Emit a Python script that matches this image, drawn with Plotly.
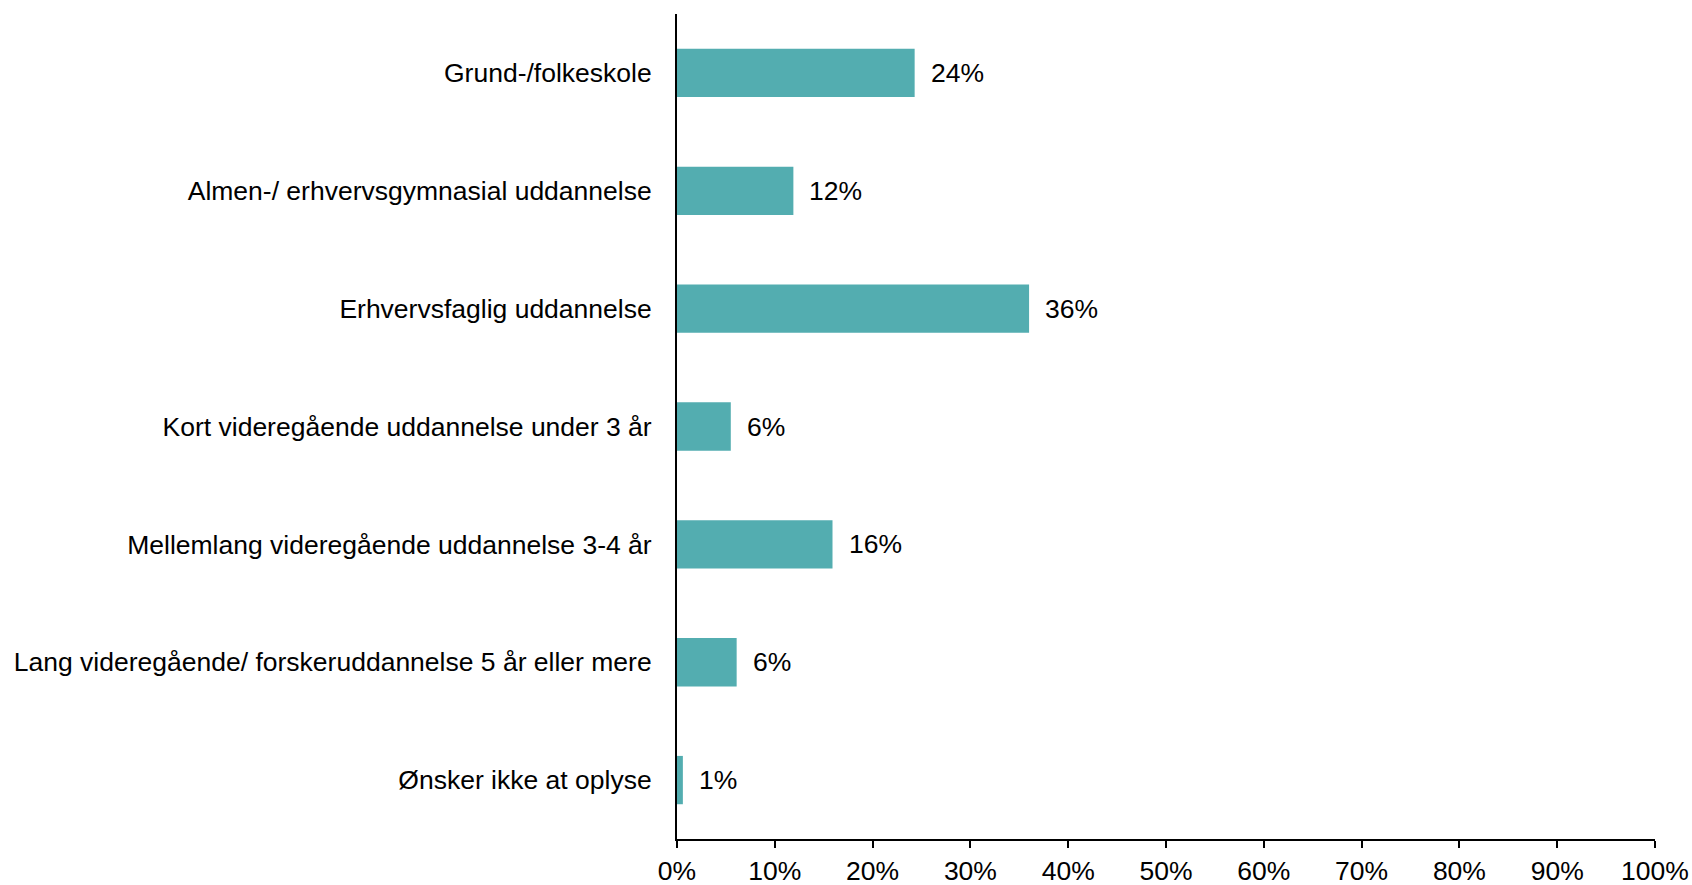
import plotly.graph_objects as go

categories = [
    "Grund-/folkeskole",
    "Almen-/ erhvervsgymnasial uddannelse",
    "Erhvervsfaglig uddannelse",
    "Kort videregående uddannelse under 3 år",
    "Mellemlang videregående uddannelse 3-4 år",
    "Lang videregående/ forskeruddannelse 5 år eller mere",
    "Ønsker ikke at oplyse",
]
values = [24.3, 11.9, 36.0, 5.5, 15.9, 6.1, 0.6]
labels = ["24%", "12%", "36%", "6%", "16%", "6%", "1%"]
tick_vals = list(range(0, 101, 10))
tick_text = [f"{v}%" for v in tick_vals]

BAR = "#53ADB0"
FONT = "Liberation Sans, Arial, sans-serif"
SIZE = 26.5

fig = go.Figure(
    go.Bar(
        x=values,
        y=categories,
        orientation="h",
        marker=dict(color=BAR, line=dict(width=0)),
        hoverinfo="skip",
    )
)

for c, v, t in zip(categories, values, labels):
    fig.add_annotation(
        x=v, y=c, text=t, showarrow=False,
        xanchor="left", yanchor="middle", xshift=14,
        font=dict(size=SIZE, color="black", family=FONT),
    )

fig.update_layout(
    width=1692,
    height=885,
    paper_bgcolor="white",
    plot_bgcolor="white",
    margin=dict(l=677, r=37, t=14, b=46),
    bargap=0.59,
    showlegend=False,
    font=dict(family=FONT, size=SIZE, color="black"),
)

fig.update_xaxes(
    range=[0, 100],
    tickvals=tick_vals,
    ticktext=tick_text,
    showgrid=False,
    zeroline=False,
    showline=True,
    linecolor="black",
    linewidth=2,
    ticks="outside",
    ticklen=7,
    tickwidth=2,
    tickcolor="black",
    tickfont=dict(size=SIZE),
    automargin=False,
)

fig.update_yaxes(
    categoryorder="array",
    categoryarray=categories[::-1],
    showgrid=False,
    zeroline=False,
    showline=True,
    linecolor="black",
    linewidth=2,
    ticks="",
    ticklabelstandoff=18,
    tickfont=dict(size=SIZE),
    automargin=False,
)

# drop the default page margin so the figure fills the window exactly
fig.write_html(
    "out.html",
    config={"displayModeBar": False},
    post_script="document.body.style.margin='0';document.body.style.overflow='hidden';",
)
